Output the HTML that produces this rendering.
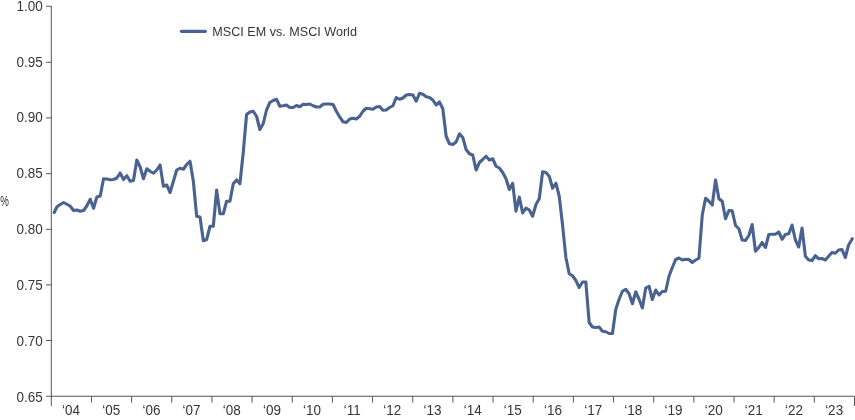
<!DOCTYPE html>
<html lang="en"><head><meta charset="utf-8"><title>MSCI EM vs. MSCI World</title>
<style>
html,body{margin:0;padding:0;background:#fff;}
svg{display:block;will-change:transform;}
text{font-family:"Liberation Sans",sans-serif;font-size:13.5px;fill:#363636;}
</style></head><body>
<svg width="855" height="420" viewBox="0 0 855 420">
<path d="M51.3,6.25 V405.95" stroke="#555" stroke-width="1" fill="none"/>
<path d="M46.099999999999994,396.25 H854.5 " stroke="#555" stroke-width="1" fill="none"/>
<path d="M854.5,396.25 V405.95" stroke="#555" stroke-width="1" fill="none"/>
<path d="M46.099999999999994,6.25 H51.3" stroke="#555" stroke-width="1" fill="none"/>
<text transform="translate(42.7,10.73) scale(1,1.045)" text-anchor="end">1.00</text>
<path d="M46.099999999999994,62.30 H51.3" stroke="#555" stroke-width="1" fill="none"/>
<text transform="translate(42.7,67.00) scale(1,1.045)" text-anchor="end">0.95</text>
<path d="M46.099999999999994,117.90 H51.3" stroke="#555" stroke-width="1" fill="none"/>
<text transform="translate(42.7,122.00) scale(1,1.045)" text-anchor="end">0.90</text>
<path d="M46.099999999999994,173.70 H51.3" stroke="#555" stroke-width="1" fill="none"/>
<text transform="translate(42.7,177.80) scale(1,1.045)" text-anchor="end">0.85</text>
<path d="M46.099999999999994,229.30 H51.3" stroke="#555" stroke-width="1" fill="none"/>
<text transform="translate(42.7,234.00) scale(1,1.045)" text-anchor="end">0.80</text>
<path d="M46.099999999999994,284.90 H51.3" stroke="#555" stroke-width="1" fill="none"/>
<text transform="translate(42.7,290.00) scale(1,1.045)" text-anchor="end">0.75</text>
<path d="M46.099999999999994,340.50 H51.3" stroke="#555" stroke-width="1" fill="none"/>
<text transform="translate(42.7,346.00) scale(1,1.045)" text-anchor="end">0.70</text>
<text transform="translate(42.7,401.80) scale(1,1.045)" text-anchor="end">0.65</text>
<text transform="translate(71.08,415.1) scale(1,1.015)" text-anchor="middle">‘04</text>
<path d="M91.46,396.25 V402.55" stroke="#555" stroke-width="1" fill="none"/>
<text transform="translate(111.24,415.1) scale(1,1.015)" text-anchor="middle">‘05</text>
<path d="M131.62,396.25 V402.55" stroke="#555" stroke-width="1" fill="none"/>
<text transform="translate(151.40,415.1) scale(1,1.015)" text-anchor="middle">‘06</text>
<path d="M171.78,396.25 V402.55" stroke="#555" stroke-width="1" fill="none"/>
<text transform="translate(191.56,415.1) scale(1,1.015)" text-anchor="middle">‘07</text>
<path d="M211.94,396.25 V402.55" stroke="#555" stroke-width="1" fill="none"/>
<text transform="translate(231.72,415.1) scale(1,1.015)" text-anchor="middle">‘08</text>
<path d="M252.10,396.25 V402.55" stroke="#555" stroke-width="1" fill="none"/>
<text transform="translate(271.88,415.1) scale(1,1.015)" text-anchor="middle">‘09</text>
<path d="M292.26,396.25 V402.55" stroke="#555" stroke-width="1" fill="none"/>
<text transform="translate(312.04,415.1) scale(1,1.015)" text-anchor="middle">‘10</text>
<path d="M332.42,396.25 V402.55" stroke="#555" stroke-width="1" fill="none"/>
<text transform="translate(352.20,415.1) scale(1,1.015)" text-anchor="middle">‘11</text>
<path d="M372.58,396.25 V402.55" stroke="#555" stroke-width="1" fill="none"/>
<text transform="translate(392.36,415.1) scale(1,1.015)" text-anchor="middle">‘12</text>
<path d="M412.74,396.25 V402.55" stroke="#555" stroke-width="1" fill="none"/>
<text transform="translate(432.52,415.1) scale(1,1.015)" text-anchor="middle">‘13</text>
<path d="M452.90,396.25 V402.55" stroke="#555" stroke-width="1" fill="none"/>
<text transform="translate(472.68,415.1) scale(1,1.015)" text-anchor="middle">‘14</text>
<path d="M493.06,396.25 V402.55" stroke="#555" stroke-width="1" fill="none"/>
<text transform="translate(512.84,415.1) scale(1,1.015)" text-anchor="middle">‘15</text>
<path d="M533.22,396.25 V402.55" stroke="#555" stroke-width="1" fill="none"/>
<text transform="translate(553.00,415.1) scale(1,1.015)" text-anchor="middle">‘16</text>
<path d="M573.38,396.25 V402.55" stroke="#555" stroke-width="1" fill="none"/>
<text transform="translate(593.16,415.1) scale(1,1.015)" text-anchor="middle">‘17</text>
<path d="M613.54,396.25 V402.55" stroke="#555" stroke-width="1" fill="none"/>
<text transform="translate(633.32,415.1) scale(1,1.015)" text-anchor="middle">‘18</text>
<path d="M653.70,396.25 V402.55" stroke="#555" stroke-width="1" fill="none"/>
<text transform="translate(673.48,415.1) scale(1,1.015)" text-anchor="middle">‘19</text>
<path d="M693.86,396.25 V402.55" stroke="#555" stroke-width="1" fill="none"/>
<text transform="translate(713.64,415.1) scale(1,1.015)" text-anchor="middle">‘20</text>
<path d="M734.02,396.25 V402.55" stroke="#555" stroke-width="1" fill="none"/>
<text transform="translate(753.80,415.1) scale(1,1.015)" text-anchor="middle">‘21</text>
<path d="M774.18,396.25 V402.55" stroke="#555" stroke-width="1" fill="none"/>
<text transform="translate(793.96,415.1) scale(1,1.015)" text-anchor="middle">‘22</text>
<path d="M814.34,396.25 V402.55" stroke="#555" stroke-width="1" fill="none"/>
<text transform="translate(834.12,415.1) scale(1,1.015)" text-anchor="middle">‘23</text>
<text transform="translate(0.35,206) scale(0.72,1.07)">%</text>
<path d="M181.5,31.35 H205.3" stroke="#4a628f" stroke-width="3.3" stroke-linecap="round" fill="none"/>
<text x="212.3" y="36" id="leg" style="font-size:12.6px">MSCI EM vs. MSCI World</text>
<path d="M54.20,212.50 L56.98,206.75 L60.30,204.50 L63.63,202.50 L66.95,204.25 L70.28,206.25 L73.61,210.50 L76.93,210.00 L80.26,211.25 L83.59,210.50 L86.91,205.75 L90.24,199.25 L93.56,208.25 L96.89,197.00 L100.22,196.00 L103.54,178.75 L106.87,179.00 L110.20,179.75 L113.52,179.50 L116.85,178.00 L120.17,173.00 L123.50,179.50 L126.83,175.75 L130.15,181.25 L133.48,180.50 L136.81,160.00 L140.13,167.00 L143.46,178.75 L146.78,168.75 L150.11,171.25 L153.44,173.25 L156.76,170.00 L160.09,165.00 L163.41,186.25 L166.74,185.00 L170.07,192.50 L173.39,181.25 L176.72,170.00 L180.05,168.25 L183.37,169.25 L186.70,164.50 L190.02,161.25 L193.35,181.25 L196.68,216.25 L200.00,217.00 L203.33,240.75 L206.66,239.50 L209.98,226.25 L213.31,226.25 L216.63,190.00 L219.96,213.75 L223.29,213.75 L226.61,201.25 L229.94,201.25 L233.26,183.75 L236.59,180.00 L239.92,183.75 L243.24,152.50 L246.57,114.50 L249.90,112.00 L253.22,111.25 L256.55,116.25 L259.87,129.50 L263.20,123.75 L266.53,110.00 L269.85,102.50 L273.18,100.50 L276.51,99.25 L279.83,106.25 L283.16,105.75 L286.48,105.00 L289.81,107.50 L293.14,107.50 L296.46,105.50 L299.79,106.75 L303.12,104.25 L306.44,104.50 L309.77,104.00 L313.09,105.75 L316.42,107.00 L319.75,107.00 L323.07,104.25 L326.40,104.00 L329.72,104.00 L333.05,104.50 L336.38,111.25 L339.70,117.00 L343.03,121.75 L346.36,122.50 L349.68,119.00 L353.01,118.25 L356.33,119.00 L359.66,116.25 L362.99,111.25 L366.31,108.25 L369.64,108.75 L372.97,109.25 L376.29,107.00 L379.62,106.50 L382.94,110.25 L386.27,110.00 L389.60,107.50 L392.92,105.75 L396.25,97.50 L399.57,99.25 L402.90,98.00 L406.23,95.00 L409.55,94.50 L412.88,95.00 L416.21,101.25 L419.53,93.25 L422.86,94.25 L426.18,96.75 L429.51,97.50 L432.84,100.00 L436.16,105.00 L439.49,102.00 L442.82,108.75 L446.14,136.25 L449.47,143.75 L452.79,144.50 L456.12,142.00 L459.45,133.75 L462.77,137.50 L466.10,149.50 L469.42,153.75 L472.75,155.00 L476.08,170.00 L479.40,162.50 L482.73,159.50 L486.06,156.25 L489.38,160.00 L492.71,158.75 L496.03,166.25 L499.36,168.00 L502.69,172.50 L506.01,178.75 L509.34,189.50 L512.67,183.25 L515.99,211.25 L519.32,197.00 L522.64,213.00 L525.97,208.00 L529.30,210.00 L532.62,216.25 L535.95,204.50 L539.28,198.75 L542.60,171.75 L545.93,172.50 L549.25,176.25 L552.58,188.25 L555.91,183.25 L559.23,196.25 L562.56,225.00 L565.88,257.50 L569.21,273.75 L572.54,275.75 L575.86,280.50 L579.19,287.50 L582.52,282.00 L585.84,282.00 L589.17,322.50 L592.49,327.00 L595.82,327.50 L599.15,327.00 L602.47,331.25 L605.80,331.75 L609.13,333.50 L612.45,333.50 L615.78,309.25 L619.10,299.25 L622.43,291.25 L625.76,289.25 L629.08,293.75 L632.41,303.75 L635.74,291.75 L639.06,299.25 L642.39,308.00 L645.71,288.00 L649.04,286.25 L652.37,299.50 L655.69,290.00 L659.02,295.00 L662.34,291.50 L665.67,291.25 L669.00,276.25 L672.32,267.50 L675.65,259.50 L678.98,258.00 L682.30,260.00 L685.63,259.25 L688.95,259.50 L692.28,262.50 L695.61,260.00 L698.93,258.25 L702.26,215.00 L705.59,198.25 L708.91,201.25 L712.24,205.00 L715.56,180.00 L718.89,198.75 L722.22,201.25 L725.54,218.75 L728.87,210.50 L732.19,210.75 L735.52,225.50 L738.85,228.75 L742.17,240.00 L745.50,240.50 L748.83,235.50 L752.15,224.50 L755.48,251.25 L758.80,247.50 L762.13,242.50 L765.46,247.50 L768.78,234.50 L772.11,234.25 L775.44,234.25 L778.76,232.00 L782.09,239.25 L785.41,234.50 L788.74,233.75 L792.07,225.00 L795.39,240.00 L798.72,247.00 L802.04,228.00 L805.37,256.25 L808.70,260.00 L812.02,260.50 L815.35,255.75 L818.68,258.75 L822.00,258.50 L825.33,260.00 L828.65,256.25 L831.98,252.50 L835.31,253.25 L838.63,250.00 L841.96,249.50 L845.29,257.50 L848.61,245.00 L852.30,238.75" stroke="#4a628f" stroke-width="3.1" stroke-linejoin="round" stroke-linecap="round" fill="none"/>
</svg>
</body></html>
